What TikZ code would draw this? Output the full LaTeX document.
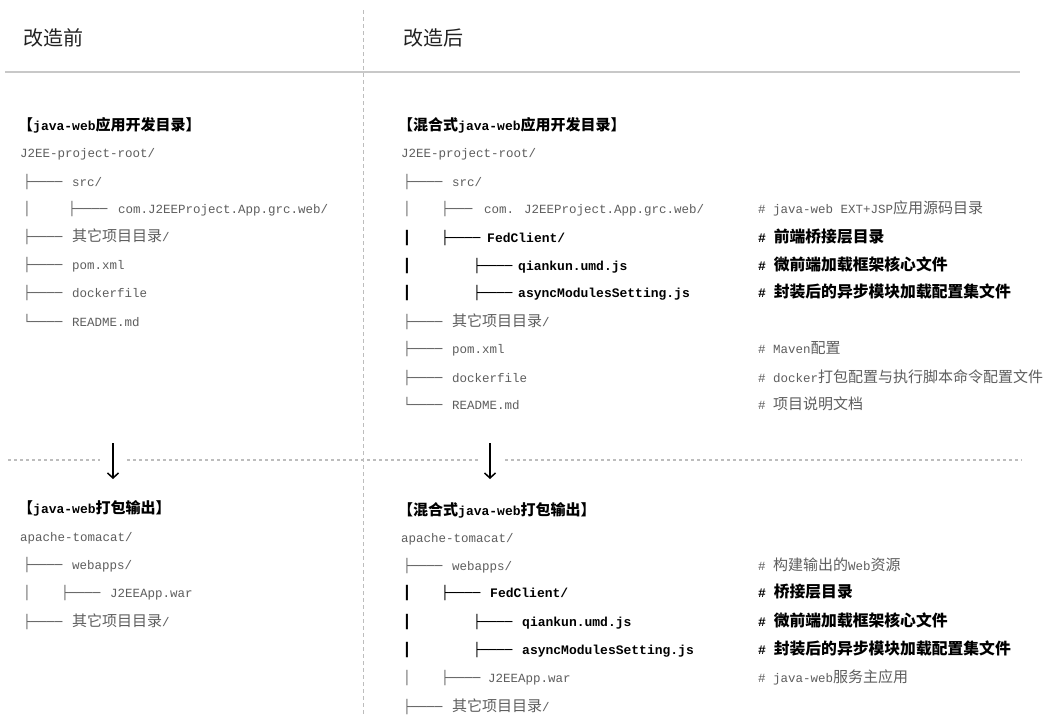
\documentclass[tikz,border=0pt]{standalone}
\usepackage{fontspec}
\usetikzlibrary{arrows.meta}
\newfontfamily\mono{Liberation Mono}
\newfontfamily\cjk{Noto Sans CJK SC}
\newfontfamily\boxf{DejaVu Sans Mono}
\newcommand\zh[1]{{\cjk\fontsize{15}{15}\selectfont#1}}
\newcommand\zhb[1]{{\cjk\fontsize{15.8}{15.8}\selectfont#1}}
\definecolor{txtgray}{HTML}{5E5E5E}
\definecolor{linegray}{HTML}{6A6A6A}
\definecolor{rulegray}{HTML}{C8C8C8}
\definecolor{dashgray}{HTML}{BDBDBD}
\definecolor{titlegray}{HTML}{222222}
\tikzset{
  txt/.style={anchor=base west, inner sep=0pt, text=txtgray, font=\mono\fontsize{12.5}{15}\selectfont},
  bld/.style={anchor=base west, inner sep=0pt, text=black, font=\mono\bfseries\fontsize{13}{15}\selectfont},
  br/.style={anchor=base west, inner sep=0pt, text=linegray, font=\boxf\fontsize{13}{15}\selectfont},
  brb/.style={br, text=black},
  hd/.style={anchor=base west, inner sep=0pt, text=black, font=\mono\bfseries\fontsize{13}{15}\selectfont},
  title/.style={anchor=base west, inner sep=0pt, text=titlegray, font=\cjk\fontsize{20}{20}\selectfont},
  sep/.style={draw=dashgray, line width=1.3pt, dash pattern=on 3pt off 3pt},
  vsep/.style={draw=dashgray, line width=0.8pt, dash pattern=on 4pt off 3pt},
  down/.style={draw=black, line width=1.5pt, -{Straight Barb[length=5pt,width=11pt]}}
}
\begin{document}
\begin{tikzpicture}[x=1pt,y=-1pt]
\useasboundingbox[fill=white] (0,0) rectangle (1051,715);
% frame lines
\draw[vsep] (363,10) -- (363,715);
\draw[rulegray, line width=2pt] (5,72) -- (1020,72);
\draw[sep] (8,460) -- (100,460);
\draw[sep] (127,460) -- (478,460);
\draw[sep] (505,460) -- (1022,460);
\coordinate (a1s) at (113,443); \coordinate (a1e) at (113,479);
\coordinate (a2s) at (490,443); \coordinate (a2e) at (490,479);
\draw[down] (a1s) -- (a1e);
\draw[down] (a2s) -- (a2e);
% titles
\node[title] (tL) at (23,45) {改造前};
\node[title] (tR) at (403,45) {改造后};

% ===== left top tree =====
\node[hd] (hA) at (18,130) {\zh{【}java-web\zh{应用开发目录】}};
\node[txt] (A0) at (20,157.5) {J2EE-project-root/};
\node[br] (A1b) at (23,186.5) {├────};
\node[txt] (A1) at (72,186.5) {src/};
\node[br] (A2v) at (23,213.5) {│};
\node[br] (A2b) at (68,213.5) {├────};
\node[txt] (A2) at (118,213.5) {com.J2EEProject.App.grc.web/};
\node[br] (A3b) at (23,241.5) {├────};
\node[txt] (A3) at (72,241.5) {\zh{其它项目目录}/};
\node[br] (A4b) at (23,269.5) {├────};
\node[txt] (A4) at (72,269.5) {pom.xml};
\node[br] (A5b) at (23,297.5) {├────};
\node[txt] (A5) at (72,297.5) {dockerfile};
\node[br] (A6b) at (23,326.5) {└────};
\node[txt] (A6) at (72,326.5) {README.md};

% ===== right top tree =====
\node[hd] (hB) at (398,130) {\zh{【混合式}java-web\zh{应用开发目录】}};
\node[txt] (B0) at (401,157.5) {J2EE-project-root/};
\node[br] (B1b) at (403,186.5) {├────};
\node[txt] (B1) at (452,186.5) {src/};
\node[br] (B2v) at (403,213.5) {│};
\node[br] (B2b) at (441,213.5) {├───};
\node[txt] (B2) at (484,213.5) {com. J2EEProject.App.grc.web/};
\node[txt] (B2c) at (758,213.5) {\# java-web EXT+JSP\zh{应用源码目录}};
\node[brb] (B3v) at (403,242.5) {┃};
\node[brb] (B3b) at (441,242.5) {├────};
\node[bld] (B3) at (487,242.5) {FedClient/};
\node[bld] (B3c) at (758,242.5) {\# \zhb{前端桥接层目录}};
\node[brb] (B4v) at (403,270.5) {┃};
\node[brb] (B4b) at (473,270.5) {├────};
\node[bld] (B4) at (518,270.5) {qiankun.umd.js};
\node[bld] (B4c) at (758,270.5) {\# \zhb{微前端加载框架核心文件}};
\node[brb] (B5v) at (403,297.5) {┃};
\node[brb] (B5b) at (473,297.5) {├────};
\node[bld] (B5) at (518,297.5) {asyncModulesSetting.js};
\node[bld] (B5c) at (758,297.5) {\# \zhb{封装后的异步模块加载配置集文件}};
\node[br] (B6b) at (403,326.5) {├────};
\node[txt] (B6) at (452,326.5) {\zh{其它项目目录}/};
\node[br] (B7b) at (403,353.5) {├────};
\node[txt] (B7) at (452,353.5) {pom.xml};
\node[txt] (B7c) at (758,353.5) {\# Maven\zh{配置}};
\node[br] (B8b) at (403,382.5) {├────};
\node[txt] (B8) at (452,382.5) {dockerfile};
\node[txt] (B8c) at (758,382.5) {\# docker\zh{打包配置与执行脚本命令配置文件}};
\node[br] (B9b) at (403,409.5) {└────};
\node[txt] (B9) at (452,409.5) {README.md};
\node[txt] (B9c) at (758,409.5) {\# \zh{项目说明文档}};

% ===== left bottom tree =====
\node[hd] (hC) at (18,513) {\zh{【}java-web\zh{打包输出】}};
\node[txt] (C0) at (20,541.5) {apache-tomacat/};
\node[br] (C1b) at (23,569.5) {├────};
\node[txt] (C1) at (72,569.5) {webapps/};
\node[br] (C2v) at (23,597.5) {│};
\node[br] (C2b) at (61,597.5) {├────};
\node[txt] (C2) at (110,597.5) {J2EEApp.war};
\node[br] (C3b) at (23,626.5) {├────};
\node[txt] (C3) at (72,626.5) {\zh{其它项目目录}/};

% ===== right bottom tree =====
\node[hd] (hD) at (398,515) {\zh{【混合式}java-web\zh{打包输出】}};
\node[txt] (D0) at (401,542.5) {apache-tomacat/};
\node[br] (D1b) at (403,570.5) {├────};
\node[txt] (D1) at (452,570.5) {webapps/};
\node[txt] (D1c) at (758,570.5) {\# \zh{构建输出的}Web\zh{资源}};
\node[brb] (D2v) at (403,597.5) {┃};
\node[brb] (D2b) at (441,597.5) {├────};
\node[bld] (D2) at (490,597.5) {FedClient/};
\node[bld] (D2c) at (758,597.5) {\# \zhb{桥接层目录}};
\node[brb] (D3v) at (403,626.5) {┃};
\node[brb] (D3b) at (473,626.5) {├────};
\node[bld] (D3) at (522,626.5) {qiankun.umd.js};
\node[bld] (D3c) at (758,626.5) {\# \zhb{微前端加载框架核心文件}};
\node[brb] (D4v) at (403,654.5) {┃};
\node[brb] (D4b) at (473,654.5) {├────};
\node[bld] (D4) at (522,654.5) {asyncModulesSetting.js};
\node[bld] (D4c) at (758,654.5) {\# \zhb{封装后的异步模块加载配置集文件}};
\node[br] (D5v) at (403,682.5) {│};
\node[br] (D5b) at (441,682.5) {├────};
\node[txt] (D5) at (488,682.5) {J2EEApp.war};
\node[txt] (D5c) at (758,682.5) {\# java-web\zh{服务主应用}};
\node[br] (D6b) at (403,711) {├────};
\node[txt] (D6) at (452,711) {\zh{其它项目目录}/};
\end{tikzpicture}
\end{document}
